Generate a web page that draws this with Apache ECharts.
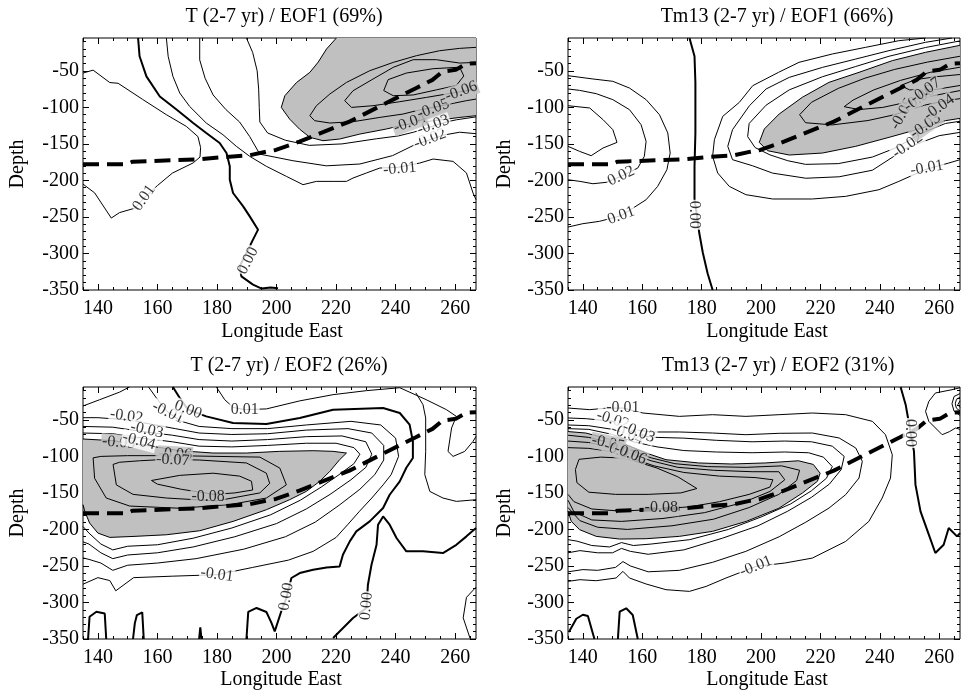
<!DOCTYPE html>
<html><head><meta charset="utf-8">
<script src="https://cdn.jsdelivr.net/npm/echarts@6/dist/echarts.min.js"></script>
<style>html,body{margin:0;padding:0;background:#fff}#c{width:961px;height:691px}</style>
</head><body><div id="c"></div>
<script>
// ---------- axis ticks ----------
const xMajor = [140,160,180,200,220,240,260];
const xMinor = [135,145,150,155,165,170,175,185,190,195,205,210,215,225,230,235,245,250,255,265];
const yMajor = [-350,-300,-250,-200,-150,-100,-50];
const yMinor = [-340,-330,-320,-310,-290,-280,-270,-260,-240,-230,-220,-210,-190,-180,-170,-160,-140,-130,-120,-110,-90,-80,-70,-60,-40,-30,-20,-10];
const lonRange = [135, 267];
const depthRange = [-350, -5];
const titles = ['T (2-7 yr) / EOF1 (69%)','Tm13 (2-7 yr) / EOF1 (66%)','T (2-7 yr) / EOF2 (26%)','Tm13 (2-7 yr) / EOF2 (31%)'];

// ---------- thermocline (dashed) ----------
const thermocline = [[135,-178],[149.5,-178],[151.7,-174.3],[174.1,-171.1],[180.8,-168.4],[190.9,-165.6],[196.5,-160.6],[199.8,-158.3],[207.7,-146.9],[213.3,-137.7],[224.5,-119.5],[235.6,-96.6],[246.8,-73.8],[252.4,-62.3],[255.8,-50.9],[260.2,-48.6],[263.6,-40.4],[267,-39.5]];

// ---------- panel 1 : T EOF1 ----------
const p1_shade = [[220.1,-5],[216.8,-20],[214,-38],[211.2,-52],[206.7,-66],[202.8,-84],[201.6,-100],[204.4,-116],[207.8,-130],[211.2,-141],[215.6,-145.6],[221.2,-143.3],[228,-136.5],[236.9,-129.6],[242.5,-124.2],[250.4,-119.6],[261.6,-113.7],[267,-111.4]];
const p1_shadeClose = [[267,-5]];
const p1_c_p01 = [[135,-53],[138.4,-49],[144,-66],[146.8,-67],[155,-89],[163,-110],[169.7,-126],[173.6,-140],[174.5,-155],[174.3,-168],[172,-176],[165,-190],[160,-207],[155.5,-224],[152.4,-238],[147.3,-244],[144.5,-251.5],[138.9,-217],[135,-205]];
const p1_c_000 = [[153.5,-5],[154,-30],[156.3,-57.5],[160.8,-85],[166.4,-103],[172,-121.4],[176.4,-135],[180.9,-148.8],[183.2,-162.5],[184.3,-180.7],[184.3,-199],[185.4,-217.2],[188.8,-235.5],[191,-249.2],[193.8,-267.4],[192.1,-281.1],[189.9,-299.4],[187.6,-317.6],[188.2,-331.3],[192.1,-342.7],[195,-348],[198,-346.5],[200.5,-347.5]];
const p1_c_m01 = [[163,-5],[163.6,-30],[165.2,-57.5],[167.5,-80.3],[170.8,-98.6],[176.4,-121.4],[182,-137.4],[186.5,-153.3],[191,-167],[196.6,-180.7],[203.3,-194.4],[208.9,-205.8],[213.4,-201.3],[219,-201.3],[223.5,-201.3],[225.7,-196.7],[230.2,-189.8],[234.7,-183],[241,-182],[248.1,-176.2],[252.6,-170.7],[259.3,-173.9],[263.8,-189.8],[266,-217.2],[267,-226.4]];
const p1_c_m02 = [[174.2,-5],[174.2,-35],[176,-60],[178.7,-83],[183,-103],[187.6,-120],[191,-140],[194.4,-164],[205.5,-173],[216.7,-180],[228,-177.5],[239,-166],[246,-152],[256,-138],[261.5,-134],[267,-136]];
const p1_c_m03 = [[189.9,-5],[192,-25],[193.5,-50],[194,-75],[194.2,-100],[194.4,-120],[197,-135],[203,-145],[211,-152],[222,-150],[233.5,-143],[241,-139],[246,-134],[257,-120],[260.4,-117],[267,-113]];
const p1_c_m05 = [[267,-17.8],[261.5,-19.2],[254.8,-22.4],[247,-29.2],[239.2,-38.4],[231.3,-49.8],[223.5,-65.8],[217.9,-81.7],[213.4,-97.7],[211.2,-111.4],[212.8,-118.2],[217.9,-121.4],[225.7,-119.6],[234.7,-113.7],[242.5,-109.1],[247,-104.5],[258.2,-95.4],[263.8,-90.8],[267,-88.6]];
const p1_c_m06 = [[267,-38.4],[261.5,-39.3],[253.7,-34.7],[245.9,-34.7],[239.2,-45.2],[232.4,-61.2],[225.7,-77.2],[222.9,-90.8],[225.2,-100],[232.4,-97.7],[241.4,-92.2],[250.4,-86.3],[257.1,-81.7],[267,-74.9]];
const p1_c_m07 = [[261.5,-45],[252.6,-47],[243.6,-53],[237.5,-62],[236,-77],[239.2,-84],[245.9,-83],[253.7,-76],[260.4,-70],[262.9,-57],[261.5,-45]];
const p1_lines = [['0.01',p1_c_p01],['0.00',p1_c_000],['-0.01',p1_c_m01],['-0.02',p1_c_m02],['-0.03',p1_c_m03],['-0.04',p1_shade],['-0.05',p1_c_m05],['-0.06',p1_c_m06],['-0.07',p1_c_m07]];
const p1_labels = [['0.00',190.4,-310,63],['0.01',155.5,-224,55],['-0.01',241.4,-184,5],['-0.02',251.5,-143,20],['-0.03',252.6,-124,20],['-0.04',244.7,-121,20],['-0.05',252.6,-102,20],['-0.06',262,-78,20]];

// ---------- panel 2 : Tm13 EOF1 ----------
const p2_shade = [[267,-15],[255.4,-24.6],[244.2,-36],[233,-52],[222.9,-65.7],[213.9,-86.2],[206.1,-109.1],[201.1,-129.6],[199.4,-147.9],[202.2,-159.3],[209.5,-165.2],[220.7,-162.5],[231.9,-153.3],[243.1,-141],[253.2,-129.6],[262.1,-118.2],[267,-115]];
const p2_shadeClose = [];
const p2_c_p03 = [[135,-97.7],[142.3,-100.8],[146.8,-116.8],[150.1,-130.5],[151.5,-147.9],[146.8,-155.6],[142.8,-166.1],[138.9,-160.2],[135,-153.3]];
const p2_c_p02 = [[135,-74.8],[138.9,-76.7],[144.5,-81.2],[150.1,-89.4],[155.7,-103.1],[159.6,-123.7],[161.3,-146.5],[160.7,-167],[158.5,-183],[152.9,-194.4],[147.9,-202.6],[143.4,-204.5],[139,-201.3],[135,-199]];
const p2_c_p01 = [[135,-56.6],[143.4,-61.1],[150.1,-64.3],[155.7,-73.5],[161.3,-89.4],[165.8,-110],[168.6,-135],[169.4,-162.5],[168.3,-185.3],[165.2,-208.1],[161.3,-226.4],[152.9,-248.3],[145.6,-256],[140,-259.2],[135,-263.8]];
const p2_c_000 = [[175.9,-5],[177.6,-30],[177.9,-66.6],[177.9,-135],[177.6,-180.7],[177.6,-226],[178.5,-250],[179.2,-272],[180.4,-299],[182,-327],[183.7,-350]];
const p2_c_m01 = [[255.4,-5],[246.4,-8.7],[235.2,-17.8],[224,-26.9],[212.8,-38.3],[205.9,-52],[197.2,-70.3],[192.7,-93.1],[187.1,-112.3],[184.3,-144.2],[183.7,-167],[185.4,-189.8],[189.3,-208.1],[194.9,-219.5],[203.9,-225.4],[217.3,-225.4],[228.5,-221.8],[239.7,-212.7],[246.4,-201.3],[255.4,-185],[263.2,-176.2],[267,-171.6]];
const p2_c_m02 = [[264.3,-5],[255.4,-10.9],[243.1,-22.3],[231.9,-33.8],[220.7,-45.2],[209.5,-58.9],[201.7,-74.8],[196.1,-97.7],[190.4,-130.5],[188.8,-153.3],[190.4,-171.6],[197.2,-180],[203.9,-190],[215.1,-197],[226.3,-195],[237.5,-186],[249.3,-155],[260,-138.7],[267,-134.2]];
const p2_c_m03 = [[267,-9],[255.4,-18],[243.1,-30],[231.9,-44],[220.7,-58],[209.5,-76],[201.7,-97],[196,-122],[195.5,-140],[198,-155],[203,-165],[209,-173],[215,-178],[226,-177],[237.5,-168],[245,-156],[255.4,-133],[262.1,-122],[267,-119]];
const p2_c_m05 = [[267,-30],[256,-38],[245,-48],[235,-60],[226,-74],[217,-93],[213,-110],[215,-121],[224,-124],[236,-118],[245,-110],[255,-97],[262,-91],[267,-88]];
const p2_c_m06 = [[267,-45],[257,-52],[247,-63],[238,-76],[231,-90],[228,-99],[233,-103],[241,-100],[249,-93],[258,-84],[267,-77]];
const p2_c_m07 = [[267,-55],[259,-58],[252,-62],[247,-70],[250,-76],[258,-76],[267,-70]];
const p2_lines = [['0.03',p2_c_p03],['0.02',p2_c_p02],['0.01',p2_c_p01],['0.00',p2_c_000],['-0.01',p2_c_m01],['-0.02',p2_c_m02],['-0.03',p2_c_m03],['-0.04',p2_shade],['-0.05',p2_c_m05],['-0.06',p2_c_m06],['-0.07',p2_c_m07]];
const p2_labels = [['0.00',177.6,-247,-90],['0.02',152.9,-194,25],['0.01',152.9,-248,20],['-0.01',255.9,-183,10],['-0.02',249.3,-152,35],['-0.03',255.4,-125,35],['-0.04',260,-100,35],['-0.05',247.6,-109,60],['-0.06',253.2,-88,35],['-0.07',255.4,-77,35]];

// ---------- panel 3 : T EOF2 ----------
const p3_shade = [[135,-76.2],[145.1,-78.5],[156.3,-84.9],[167.5,-92.2],[178.7,-95.4],[189.9,-95.4],[201.1,-93.1],[212.3,-92.2],[219,-93.1],[223.5,-95.4],[221.2,-104.5],[217.9,-120.5],[214.5,-134.2],[210,-147.9],[204.4,-159.3],[196.6,-173],[185.4,-189],[174.2,-201.8],[163,-207.3],[151.8,-209.6],[144,-210.9],[140,-205],[137.2,-191.2],[135.6,-175.2],[135,-166]];
const p3_shadeClose = [];
const p3_c_m01a = [[135,-31],[140.6,-22.4],[147.3,-12],[150.6,-5]];
const p3_c_m01b = [[157,-5],[160,-22],[163.6,-40],[168,-52],[174,-59],[185,-62],[197,-62],[210,-57],[225,-52],[235,-57],[240,-75],[241,-100],[238.5,-125],[235.8,-139],[232,-157],[227.9,-175],[224,-193],[220,-211],[212.3,-230],[204,-242],[192,-252],[180,-262],[165,-264],[152,-266],[146,-284],[144,-270],[140,-266],[135,-275]];
const p3_c_m02 = [[135,-47],[140,-47],[150,-50],[158,-56],[166,-62],[174,-68],[185,-70],[197,-69],[210,-64],[224,-62],[232,-68],[236,-85],[236,-105],[233,-125],[228,-145],[221,-167],[213,-190],[203,-210],[189,-227],[173,-240],[160,-246],[150,-249],[145,-256],[141,-246],[137,-241],[135,-239]];
const p3_c_m03 = [[135,-59],[145,-60],[155,-66],[165,-71],[174,-77],[185,-79],[197,-77],[210,-73],[222,-72],[230,-80],[232,-97],[230,-115],[225,-132],[218,-152],[210,-172],[200,-192],[186,-210],[172,-224],[160,-232],[150,-235],[145,-240],[141,-232],[137,-220],[135,-217]];
const p3_c_m04 = [[135,-68],[145,-69],[155,-75],[165,-80],[174,-86],[185,-87],[197,-85],[210,-82],[220,-82],[226,-88],[228,-97],[226,-110],[221,-125],[215,-142],[208,-160],[198,-180],[185,-198],[172,-212],[160,-221],[150,-223],[145,-228],[141,-220],[137,-205],[135,-196]];
const p3_c_m06 = [[138.4,-102],[138.9,-130],[142.8,-157],[150.7,-168],[167.5,-171],[184.3,-166],[196.6,-157],[203.3,-139],[201.1,-116],[194.4,-101],[180,-100],[166,-99],[150,-99],[141,-100],[138.4,-102]];
const p3_c_m07 = [[145.1,-111],[146.2,-139],[151.8,-152],[163,-157],[179.8,-161],[194.4,-150],[197.7,-137],[196.6,-123],[189.9,-109],[174.2,-105],[163,-104],[154,-106],[147.3,-108],[145.1,-111]];
const p3_c_m08 = [[158,-133],[167.5,-126],[178.7,-123],[187.6,-127],[191.6,-134],[192,-146],[186,-150],[179,-152],[168,-145],[160,-138],[158,-133]];
const p3_c_000a = [[165.2,-5],[167.5,-20],[170.3,-36],[176.4,-45.2],[185.4,-54.3],[196.6,-55.7],[207.8,-47.4],[219,-36.1],[235.8,-33.8],[241.4,-40.6],[244.7,-56.6],[245.8,-79.5],[245.8,-102.2],[243.6,-115.5],[241.4,-134.2],[238,-152.5],[235.8,-170.7],[231.3,-189],[226.8,-202.7],[224.6,-216.4],[222.3,-234.6],[221.2,-250.6],[216.8,-252],[212.3,-255.1],[207.8,-259.7],[205,-266.5],[203.3,-294],[201.6,-312],[199.4,-339.5],[198.3,-328],[196.6,-313],[193.3,-307.5],[190.5,-313],[189.9,-350]];
const p3_c_000b = [[219,-348.6],[225.7,-321.3],[230.2,-307.6],[230.7,-275.7],[231.9,-248.3],[233.6,-220.9],[234.1,-193.5],[235.8,-182.2],[238,-193.5],[240.3,-211.7],[243.6,-230],[249.2,-230],[255.9,-232.3],[260.4,-221],[263.8,-209.5],[267,-198]];
const p3_c_000c = [[136.7,-350],[137.2,-319.5],[139.5,-312.7],[142.3,-315],[142.8,-350]];
const p3_c_000d = [[151.8,-350],[152.4,-328.6],[153.1,-317.2],[154.9,-313.5],[155.4,-350]];
const p3_c_000e = [[174,-350],[174.4,-334],[174.8,-350]];
const p3_c_p01a = [[179.8,-5],[182.6,-22.4],[185.5,-33],[189.3,-36],[196.6,-35],[207.8,-24],[219,-15.5],[230.2,-10],[241.4,-6],[250.3,-22.4],[257.1,-36.1],[260.4,-45.2],[258.8,-61.1],[257.6,-93.2],[259.3,-100],[263.2,-93.2],[266,-79.5],[267,-72.6]];
const p3_c_p01c = [[246.8,-13],[249.2,-29.2],[250.1,-47.4],[250.1,-93.2],[249.8,-125],[251.5,-148],[255.9,-157],[260.4,-161.6],[267,-159.3]];
const p3_c_p01b = [[267,-279],[263.8,-293],[262.7,-321],[265,-349]];
const p3_lines = [['-0.01',p3_c_m01a],['-0.01',p3_c_m01b],['-0.02',p3_c_m02],['-0.03',p3_c_m03],['-0.04',p3_c_m04],['-0.05',p3_shade],['-0.06',p3_c_m06],['-0.07',p3_c_m07],['-0.08',p3_c_m08],['0.00',p3_c_000a],['0.00',p3_c_000b],['0.00',p3_c_000c],['0.00',p3_c_000d],['0.00',p3_c_000e],['0.01',p3_c_p01a],['0.01',p3_c_p01c],['0.01',p3_c_p01b]];
const p3_labels = [['-0.02',149.6,-45,-8],['-0.01',163.6,-40,-25],['0.00',170.3,-36,-20],['0.01',189.3,-36,0],['-0.03',156.5,-64,-12],['-0.05',147,-81,-5],['-0.04',153.8,-79,-15],['-0.06',166,-97,-3],['-0.07',165.2,-105,-3],['-0.08',177,-155,0],['-0.01',180,-262,-8],['0.00',203.3,-292,80],['0.00',230.2,-305,85]];

// ---------- panel 4 : Tm13 EOF2 ----------
const p4_shade = [[135,-66],[141,-68],[147.7,-75],[154.4,-84],[161,-95],[168,-104.5],[179,-109],[190,-110.4],[201.4,-109],[212.6,-106],[217.6,-111],[219.9,-123],[219,-134],[214,-150],[206,-171],[195,-189],[183.7,-202.6],[172.5,-209.5],[161.3,-212.7],[152.4,-213.2],[144.5,-209.5],[138.9,-200.3],[136.1,-189],[135,-175]];
const p4_shadeClose = [];
const p4_c_m01 = [[135,-33.8],[142.3,-36],[148,-34],[153.5,-33.8],[160.2,-40.6],[172.5,-45.2],[183.7,-42.9],[194.9,-45.2],[206.1,-42.9],[217.3,-40.6],[228.5,-42.9],[237.5,-52],[241.9,-70.3],[244.2,-97.7],[243.6,-129.6],[240.8,-157],[236.3,-189],[228.5,-216.4],[217.3,-239.2],[208,-246],[198.3,-250.6],[188.2,-266.5],[181.5,-278],[175.9,-284.8],[168,-282.5],[161.3,-274.7],[155.7,-266.5],[153.5,-257.4],[151.2,-266.5],[144.5,-270.2],[139,-268.8],[135,-271.1]];
const p4_c_m02 = [[135,-47.4],[141.2,-48.4],[150.1,-52],[156.8,-63.4],[163.6,-66.6],[172.5,-66.6],[183.7,-68],[194.9,-70.3],[206.1,-68.4],[217.3,-68],[226.3,-74.8],[231.9,-88.5],[234.1,-106.8],[233,-129.6],[228.5,-152.4],[222.9,-170.7],[215.1,-190],[206.1,-210],[194.9,-230],[183.7,-245],[172.5,-256],[162,-258],[156,-250],[153.5,-244],[151,-252],[145,-256],[140,-255],[135,-258]];
const p4_c_m03 = [[135,-57],[142,-58],[150,-63],[157,-71],[165,-74],[174,-75],[185,-78],[197,-80],[208,-79],[217,-80],[224,-86],[228,-100],[227,-118],[223,-138],[217,-156],[209,-175],[199,-195],[187,-212],[174,-228],[162,-234],[156,-230],[153,-226],[150,-232],[145,-232],[139,-229],[135,-232]];
const p4_c_m04 = [[135,-62],[142,-63],[150,-70],[157,-80],[165,-87],[174,-92],[185,-94],[197,-95],[208,-94],[216,-95],[221,-101],[224,-114],[222,-130],[217,-147],[210,-165],[200,-183],[189,-200],[176,-214],[163,-220],[157,-222],[153,-218],[149,-224],[143,-222],[138,-216],[135,-214]];
const p4_c_m06 = [[135,-71],[142,-74],[149,-81],[156,-91],[163,-102],[171,-110],[182,-114],[195,-115],[207,-113],[213,-119],[212,-133],[206,-152],[196,-170],[184,-186],[170,-195],[155,-200],[145,-197],[139,-188],[135,-170]];
const p4_c_m07 = [[135,-79],[142,-81],[149,-87],[156,-96],[163,-106],[172,-115],[184,-119],[197,-121],[206,-121],[208,-132],[203,-148],[194,-163],[181,-177],[167,-185],[153,-189],[143,-187],[137,-176],[135,-160]];
const p4_c_m08 = [[135,-88],[142,-89],[149,-93],[156,-102],[164,-113],[174,-122],[186,-127],[198,-129],[204,-132],[203,-142],[196,-152],[186,-162],[176,-169],[166,-172],[153,-175],[143,-172],[137,-162],[135,-152]];
const p4_c_m09 = [[138.7,-104],[146,-101],[152,-102],[158,-107],[165,-116],[172,-128],[178.4,-144],[173,-150],[162,-152],[151,-152],[142,-149],[138,-136],[137.5,-118],[138.7,-104]];
const p4_c_000a = [[247,-5],[248.7,-29.2],[249.5,-47.4],[250.4,-68],[251.5,-93.2],[252,-138.7],[253.7,-175.3],[256.5,-207.2],[258.7,-232.3],[261.5,-221],[263.2,-198],[266,-209.5],[267,-205]];
const p4_c_000b = [[135.3,-340.5],[137.8,-322.3],[140,-316.8],[141.7,-318.6],[143.9,-350]];
const p4_c_000c = [[151.8,-350],[152.4,-312.6],[154.6,-308],[156.8,-317.2],[158.5,-350]];
const p4_c_p01 = [[267,-6],[264.3,-8.7],[258.7,-13.2],[256.5,-24.7],[255.4,-38.4],[256.5,-52],[261,-70.3],[263.5,-66],[265.5,-61.1],[267,-63]];
const p4_c_p02 = [[267,-14],[265,-18],[264.3,-28],[265,-38],[267,-44]];
const p4_c_p03 = [[267,-19],[265.8,-22],[265.4,-28],[265.8,-34],[267,-38]];
const p4_c_p04 = [[267,-24],[266.4,-26],[266.3,-29],[266.5,-31],[267,-33]];
const p4_lines = [['-0.01',p4_c_m01],['-0.02',p4_c_m02],['-0.03',p4_c_m03],['-0.04',p4_c_m04],['-0.05',p4_shade],['-0.06',p4_c_m06],['-0.07',p4_c_m07],['-0.08',p4_c_m08],['-0.09',p4_c_m09],['0.00',p4_c_000a],['0.00',p4_c_000b],['0.00',p4_c_000c],['0.01',p4_c_p01],['0.02',p4_c_p02],['0.03',p4_c_p03],['0.04',p4_c_p04]];
const p4_labels = [['-0.01',153.5,-33.8,0],['-0.02',150.1,-50,-18],['-0.04',155,-70,-22],['-0.03',158.8,-67,-22],['-0.05',148.5,-82,-12],['-0.07',152.5,-93,-22],['-0.06',156,-97,-22],['-0.08',166.4,-171,0],['-0.01',198.3,-250.6,22],['0.00',250.4,-68,-90]];

// ---------- layout ----------
const FONT = '"Liberation Serif","Times New Roman",serif';
const SHADE = '#c0c0c0';
const layout = [
  {grid:{left:83,top:38,width:393,height:252}, tx:284, ty:17, dx:18, lx:282, ly:332},
  {grid:{left:568,top:38,width:392,height:252}, tx:777, ty:17, dx:505, lx:767, ly:332},
  {grid:{left:83,top:387,width:393,height:252}, tx:289, ty:366, dx:18, lx:281, ly:680},
  {grid:{left:568,top:387,width:392,height:252}, tx:778, ty:366, dx:505, lx:767, ly:680}
];
const panelData = [
  {shade:p1_shade, close:p1_shadeClose, lines:p1_lines, labels:p1_labels},
  {shade:p2_shade, close:p2_shadeClose, lines:p2_lines, labels:p2_labels},
  {shade:p3_shade, close:p3_shadeClose, lines:p3_lines, labels:p3_labels},
  {shade:p4_shade, close:p4_shadeClose, lines:p4_lines, labels:p4_labels}
];

function inPoly(pt, poly){
  let c=false;
  for(let i=0,j=poly.length-1;i<poly.length;j=i++){
    const xi=poly[i][0], yi=poly[i][1], xj=poly[j][0], yj=poly[j][1];
    if(((yi>pt[1])!==(yj>pt[1])) && (pt[0] < (xj-xi)*(pt[1]-yi)/(yj-yi)+xi)) c=!c;
  }
  return c;
}

const grids=[], xAxes=[], yAxes=[], series=[], graphics=[];
const tickStyle = {color:'#000', width:1};
layout.forEach((L, gi) => {
  grids.push(Object.assign({show:true, borderColor:'#000', borderWidth:1, backgroundColor:'transparent', containLabel:false, outerBoundsMode:'none'}, L.grid));
  const xbase = {gridIndex:gi, type:'value', min:lonRange[0], max:lonRange[1], splitLine:{show:false}, axisLine:{show:false, onZero:false}, minorTick:{show:false}};
  const ybase = {gridIndex:gi, type:'value', min:depthRange[0], max:depthRange[1], splitLine:{show:false}, axisLine:{show:false, onZero:false}, minorTick:{show:false}};
  xAxes.push(Object.assign({}, xbase, {position:'bottom', axisTick:{show:true, inside:true, length:6, customValues:xMajor, lineStyle:tickStyle},
    axisLabel:{show:true, customValues:xMajor, margin:9, fontFamily:FONT, fontSize:20, color:'#000'}}));
  xAxes.push(Object.assign({}, xbase, {position:'bottom', axisTick:{show:true, inside:true, length:3, customValues:xMinor, lineStyle:tickStyle}, axisLabel:{show:false}}));
  xAxes.push(Object.assign({}, xbase, {position:'top', axisTick:{show:true, inside:true, length:6, customValues:xMajor, lineStyle:tickStyle}, axisLabel:{show:false}}));
  xAxes.push(Object.assign({}, xbase, {position:'top', axisTick:{show:true, inside:true, length:3, customValues:xMinor, lineStyle:tickStyle}, axisLabel:{show:false}}));
  yAxes.push(Object.assign({}, ybase, {position:'left', axisTick:{show:true, inside:true, length:6, customValues:yMajor, lineStyle:tickStyle},
    axisLabel:{show:true, customValues:yMajor, margin:4, fontFamily:FONT, fontSize:20, color:'#000'}}));
  yAxes.push(Object.assign({}, ybase, {position:'left', axisTick:{show:true, inside:true, length:3, customValues:yMinor, lineStyle:tickStyle}, axisLabel:{show:false}}));
  yAxes.push(Object.assign({}, ybase, {position:'right', axisTick:{show:true, inside:true, length:6, customValues:yMajor, lineStyle:tickStyle}, axisLabel:{show:false}}));
  yAxes.push(Object.assign({}, ybase, {position:'right', axisTick:{show:true, inside:true, length:3, customValues:yMinor, lineStyle:tickStyle}, axisLabel:{show:false}}));

  const xi = gi*4, yi = gi*4;
  const P = panelData[gi];
  const poly = P.shade.concat(P.close);
  series.push({type:'custom', xAxisIndex:xi, yAxisIndex:yi, coordinateSystem:'cartesian2d', silent:true, z:1, clip:true,
    data: poly,
    renderItem: (params, api) => {
      if (params.dataIndex !== 0) return null;
      return {type:'polygon', shape:{points: poly.map(p => api.coord(p))}, style:{fill:SHADE, stroke:null}};
    }});
  P.lines.forEach(([lv, pts]) => {
    series.push({type:'line', name:lv, xAxisIndex:xi, yAxisIndex:yi, data:pts, showSymbol:false, symbol:'none', silent:true, z:3, clip:true,
      lineStyle:{color:'#000', width: lv==='0.00' ? 2 : 1}});
  });
  series.push({type:'line', xAxisIndex:xi, yAxisIndex:yi, data:thermocline, showSymbol:false, symbol:'none', silent:true, z:4, clip:true,
    lineStyle:{color:'#000', width:4, type:[16,8], cap:'butt'}});
  series.push({type:'scatter', xAxisIndex:xi, yAxisIndex:yi, symbol:'circle', symbolSize:1, silent:true, z:6,
    itemStyle:{color:'rgba(0,0,0,0)'},
    label:{show:true, position:'inside', fontFamily:FONT, fontSize:16, color:'#000', padding:[0,1]},
    data: P.labels.map(l => ({value:[l[1], l[2]], label:{formatter:l[0], rotate:l[3], backgroundColor: inPoly([l[1],l[2]], poly) ? SHADE : '#fff'}}))});

  graphics.push({type:'text', x:L.tx, y:L.ty, style:{text:titles[gi], font:'20px '+FONT, fill:'#000', textAlign:'center', textVerticalAlign:'middle'}});
  graphics.push({type:'text', x:L.dx, y:L.grid.top + L.grid.height/2, rotation:Math.PI/2, style:{text:'Depth', font:'20px '+FONT, fill:'#000', textAlign:'center', textVerticalAlign:'middle'}});
  graphics.push({type:'text', x:L.lx, y:L.ly, style:{text:'Longitude East', font:'20px '+FONT, fill:'#000', textAlign:'center', textVerticalAlign:'middle'}});
});

const chart = echarts.init(document.getElementById('c'), null, {renderer:'canvas', width:961, height:691});
chart.setOption({animation:false, backgroundColor:'#fff', grid:grids, xAxis:xAxes, yAxis:yAxes, series:series, graphic:graphics});
</script></body></html>
